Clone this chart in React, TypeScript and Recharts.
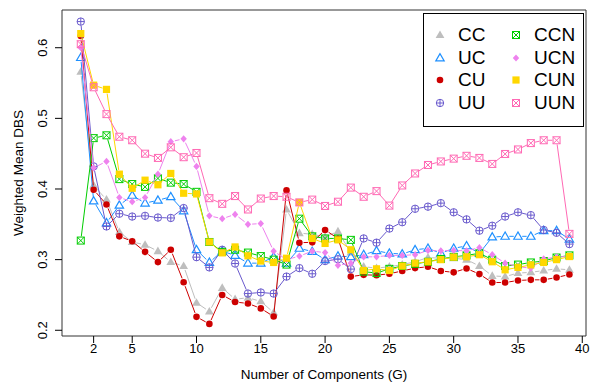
import React from 'react';
import { LineChart, Line, XAxis, YAxis, ReferenceArea, Legend } from 'recharts';

const G = [1, 2, 3, 4, 5, 6, 7, 8, 9, 10, 11, 12, 13, 14, 15, 16, 17, 18, 19, 20, 21, 22, 23, 24, 25, 26, 27, 28, 29, 30, 31, 32, 33, 34, 35, 36, 37, 38, 39];

const CC = [0.566, 0.405, 0.385, 0.339, 0.325, 0.321, 0.312, 0.2965, 0.291, 0.239, 0.2266, 0.26, 0.244, 0.246, 0.241, 0.225, 0.371, 0.3375, 0.336, 0.332, 0.34, 0.31, 0.29, 0.288, 0.29, 0.293, 0.297, 0.303, 0.302, 0.302, 0.3, 0.291, 0.277, 0.276, 0.281, 0.282, 0.2846, 0.287, 0.2856];
const UC = [0.586, 0.383, 0.352, 0.377, 0.391, 0.38, 0.384, 0.389, 0.369, 0.314, 0.296, 0.312, 0.306, 0.295, 0.295, 0.304, 0.295, 0.316, 0.3115, 0.3, 0.305, 0.304, 0.307, 0.3125, 0.309, 0.308, 0.314, 0.316, 0.309, 0.316, 0.3195, 0.309, 0.332, 0.333, 0.333, 0.333, 0.341, 0.341, 0.329];
const CU = [0.6165, 0.399, 0.378, 0.333, 0.326, 0.311, 0.2965, 0.314, 0.268, 0.219, 0.209, 0.25, 0.24, 0.238, 0.231, 0.2195, 0.398, 0.324, 0.3245, 0.342, 0.33, 0.276, 0.2785, 0.278, 0.28, 0.284, 0.288, 0.29, 0.284, 0.282, 0.2875, 0.2795, 0.2676, 0.2676, 0.2705, 0.2714, 0.2714, 0.2747, 0.279];
const UU = [0.637, 0.432, 0.347, 0.365, 0.361, 0.362, 0.3596, 0.359, 0.373, 0.3035, 0.289, 0.314, 0.2945, 0.252, 0.2535, 0.252, 0.276, 0.288, 0.28, 0.298, 0.3006, 0.2866, 0.33, 0.324, 0.344, 0.353, 0.372, 0.375, 0.38, 0.367, 0.357, 0.341, 0.348, 0.361, 0.367, 0.363, 0.342, 0.338, 0.322];
const CCN = [0.327, 0.472, 0.476, 0.414, 0.407, 0.403, 0.415, 0.409, 0.407, 0.396, 0.325, 0.311, 0.314, 0.31, 0.305, 0.3, 0.293, 0.358, 0.333, 0.33, 0.33, 0.328, 0.283, 0.281, 0.287, 0.291, 0.294, 0.297, 0.301, 0.304, 0.306, 0.309, 0.3, 0.291, 0.293, 0.296, 0.298, 0.303, 0.306];
const UCN = [0.6, 0.43, 0.439, 0.388, 0.382, 0.388, 0.421, 0.467, 0.471, 0.432, 0.362, 0.358, 0.364, 0.35, 0.351, 0.312, 0.3, 0.305, 0.312, 0.31, 0.292, 0.295, 0.304, 0.304, 0.306, 0.306, 0.307, 0.313, 0.3125, 0.313, 0.3125, 0.317, 0.307, 0.295, 0.29, 0.288, 0.301, 0.3035, 0.305];
const CUN = [0.62, 0.547, 0.541, 0.421, 0.401, 0.4125, 0.406, 0.422, 0.394, 0.393, 0.325, 0.3096, 0.318, 0.3054, 0.298, 0.296, 0.302, 0.381, 0.33, 0.323, 0.328, 0.314, 0.2846, 0.287, 0.2846, 0.291, 0.295, 0.297, 0.3, 0.3035, 0.304, 0.307, 0.297, 0.2856, 0.289, 0.2926, 0.296, 0.3, 0.3044];
const UUN = [0.605, 0.544, 0.506, 0.474, 0.469, 0.45, 0.444, 0.459, 0.445, 0.451, 0.387, 0.379, 0.39, 0.371, 0.3865, 0.39, 0.389, 0.381, 0.385, 0.376, 0.382, 0.402, 0.389, 0.397, 0.3765, 0.405, 0.422, 0.434, 0.439, 0.443, 0.447, 0.444, 0.4355, 0.4496, 0.456, 0.465, 0.469, 0.469, 0.3365];

const X_TICKS = [2, 5, 10, 15, 20, 25, 30, 35, 40];
const Y_TICKS = [0.2, 0.3, 0.4, 0.5, 0.6];

// R-ish colours and pch shapes
const SERIES = [
  { key: 'CC', color: '#BEBEBE', shape: 'triFill', values: CC },
  { key: 'UC', color: '#1E90FF', shape: 'triOpen', values: UC },
  { key: 'CU', color: '#CD0000', shape: 'circle', values: CU },
  { key: 'UU', color: '#6A5ACD', shape: 'circlePlus', values: UU },
  { key: 'CCN', color: '#00CD00', shape: 'squareX', values: CCN },
  { key: 'UCN', color: '#EE82EE', shape: 'diamond', values: UCN },
  { key: 'CUN', color: '#FFD700', shape: 'square', values: CUN },
  { key: 'UUN', color: '#FF69B4', shape: 'squareX', values: UUN },
];

const data = G.map((g, i) => {
  const row: any = { g };
  SERIES.forEach((s) => (row[s.key] = s.values[i]));
  return row;
});

const FONT = '"Liberation Sans", Arial, Helvetica, sans-serif';
const GAP = 4.2;

const Marker = ({ shape, cx, cy, color }: { shape: string; cx: number; cy: number; color: string }) => {
  switch (shape) {
    case 'triFill':
      return <polygon points={`${cx},${cy - 4.6} ${cx - 4.4},${cy + 3} ${cx + 4.4},${cy + 3}`} fill={color} />;
    case 'triOpen':
      return <polygon points={`${cx},${cy - 4.4} ${cx - 4.2},${cy + 2.9} ${cx + 4.2},${cy + 2.9}`} fill="none" stroke={color} strokeWidth={1.2} />;
    case 'circle':
      return <circle cx={cx} cy={cy} r={3.3} fill={color} />;
    case 'circlePlus':
      return (
        <g stroke={color} strokeWidth={1} fill="none">
          <circle cx={cx} cy={cy} r={3.7} />
          <line x1={cx - 3.7} y1={cy} x2={cx + 3.7} y2={cy} />
          <line x1={cx} y1={cy - 3.7} x2={cx} y2={cy + 3.7} />
        </g>
      );
    case 'squareX':
      return (
        <g stroke={color} strokeWidth={1} fill="none">
          <rect x={cx - 3.5} y={cy - 3.5} width={7} height={7} />
          <line x1={cx - 3.5} y1={cy - 3.5} x2={cx + 3.5} y2={cy + 3.5} />
          <line x1={cx - 3.5} y1={cy + 3.5} x2={cx + 3.5} y2={cy - 3.5} />
        </g>
      );
    case 'diamond':
      return <polygon points={`${cx},${cy - 3.6} ${cx + 3.2},${cy} ${cx},${cy + 3.6} ${cx - 3.2},${cy}`} fill={color} />;
    case 'square':
      return <rect x={cx - 3.6} y={cy - 3.6} width={7.2} height={7.2} fill={color} />;
    default:
      return null;
  }
};

// type = "b": marker plus a line segment to the next point, broken around each marker
const makeDot = (s: (typeof SERIES)[number]) => (props: any) => {
  const { cx, cy, index, points } = props;
  let seg = null;
  const next = points && points[index + 1];
  if (next) {
    const dx = next.x - cx;
    const dy = next.y - cy;
    const len = Math.hypot(dx, dy);
    if (len > 2 * GAP) {
      const ux = dx / len;
      const uy = dy / len;
      seg = (
        <line
          x1={cx + ux * GAP}
          y1={cy + uy * GAP}
          x2={next.x - ux * GAP}
          y2={next.y - uy * GAP}
          stroke={s.color}
          strokeWidth={1}
        />
      );
    }
  }
  return (
    <g key={`${s.key}-${index}`}>
      {seg}
      <Marker shape={s.shape} cx={cx} cy={cy} color={s.color} />
    </g>
  );
};

const YTick = (props: any) => {
  const { x, y, payload } = props;
  const tx = x - 8;
  return (
    <text x={tx} y={y} transform={`rotate(-90 ${tx} ${y})`} textAnchor="middle" dominantBaseline="central" fontSize={13} fontFamily={FONT} fill="#000">
      {payload.value.toFixed(1)}
    </text>
  );
};

const XTick = (props: any) => {
  const { x, y, payload } = props;
  return (
    <text x={x} y={y + 10} textAnchor="middle" fontSize={13} fontFamily={FONT} fill="#000">
      {payload.value}
    </text>
  );
};

const renderLegend = () => (
  <div style={{ position: 'relative', width: 161, height: 114, border: '1px solid #000', boxSizing: 'border-box', background: '#fff', fontFamily: FONT, fontSize: 19, color: '#000' }}>
    {SERIES.map((s, i) => {
      const col = i < 4 ? 0 : 1;
      const row = i % 4;
      const cy = 21 + row * 22.7;
      return (
        <React.Fragment key={s.key}>
          <svg style={{ position: 'absolute', left: 16 + col * 76 - 8, top: cy - 8 }} width={16} height={16}>
            <Marker shape={s.shape} cx={8} cy={8} color={s.color} />
          </svg>
          <div style={{ position: 'absolute', left: 34 + col * 76, top: cy - 11, lineHeight: '22px', whiteSpace: 'nowrap' }}>{s.key}</div>
        </React.Fragment>
      );
    })}
  </div>
);

export default function App() {
  return (
    <div style={{ position: 'absolute', left: 0, top: 0, background: '#fff' }}>
      <LineChart width={591} height={385} data={data} margin={{ top: 10, right: 5, left: 0, bottom: 0 }}>
        <XAxis
          dataKey="g"
          type="number"
          domain={[-0.46, 40.29]}
          ticks={X_TICKS}
          allowDataOverflow
          axisLine={false}
          tickLine={{ stroke: '#000' }}
          tickSize={7}
          tickMargin={0}
          height={49}
          tick={<XTick />}
          label={(p: any) => (
            <text x={p.viewBox.x + p.viewBox.width / 2} y={p.viewBox.y + 42.5} textAnchor="middle" fontSize={13.5} fontFamily={FONT} fill="#000">
              Number of Components (G)
            </text>
          )}
        />
        <YAxis
          type="number"
          domain={[0.1919, 0.6534]}
          ticks={Y_TICKS}
          allowDataOverflow
          axisLine={false}
          tickLine={{ stroke: '#000' }}
          tickSize={7}
          tickMargin={4}
          width={62}
          tick={<YTick />}
          label={(p: any) => {
            const cx = p.viewBox.x + 18;
            const cy = p.viewBox.y + p.viewBox.height / 2;
            return (
              <text x={cx} y={cy} transform={`rotate(-90 ${cx} ${cy})`} textAnchor="middle" dominantBaseline="central" fontSize={13.5} fontFamily={FONT} fill="#000">
                Weighted Mean DBS
              </text>
            );
          }}
        />
        <ReferenceArea x1={-0.46} x2={40.29} y1={0.1919} y2={0.6534} fill="none" stroke="#333" strokeWidth={1} ifOverflow="visible" />
        {SERIES.map((s) => (
          <Line
            key={s.key}
            dataKey={s.key}
            stroke="none"
            dot={makeDot(s)}
            activeDot={false}
            isAnimationActive={false}
          />
        ))}
        <Legend
          layout="horizontal"
          verticalAlign="middle"
          align="center"
          content={renderLegend}
          wrapperStyle={{ left: 423, top: 13, width: 161, height: 114, right: 'auto', bottom: 'auto' }}
        />
      </LineChart>
    </div>
  );
}
